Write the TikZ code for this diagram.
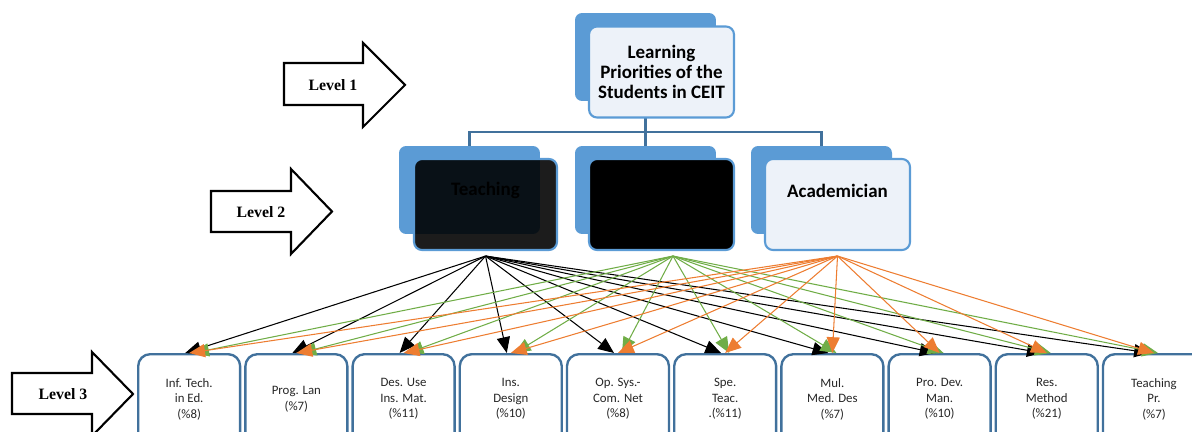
\documentclass[tikz,border=0pt]{standalone}
\usepackage{fontspec}
\setmainfont{Liberation Serif}
\newfontfamily\calibri{Carlito}
\usetikzlibrary{arrows.meta}
\definecolor{backblue}{HTML}{5B9BD5}
\definecolor{frameblue}{HTML}{41719C}
\definecolor{paleblue}{HTML}{EDF2F9}
\definecolor{arrgreen}{HTML}{70AD47}
\definecolor{arrorange}{HTML}{ED7D31}
\tikzset{
  backbox/.style={fill=backblue, rounded corners=0.14cm, inner sep=0, minimum width=2.82cm, minimum height=1.76cm},
  frontbox/.style={draw=backblue, line width=1.2pt, rounded corners=0.16cm, inner sep=0, minimum width=2.9cm, minimum height=1.82cm, align=center},
  boxtext/.style={font=\calibri\bfseries\fontsize{10.8}{11.6}\selectfont, align=center},
  topic/.style={draw=frameblue, line width=1.35pt, rounded corners=0.24cm, minimum width=2.04cm, minimum height=1.8cm, anchor=north west, inner sep=0, align=center, font=\calibri\fontsize{7.3}{8.8}\selectfont, text=black!85},
  link/.style={draw=frameblue, line width=1.4pt},
  levelarrow/.style={draw=black, line width=1.2pt, fill=white, line join=miter},
  leveltext/.style={font=\bfseries\fontsize{9}{10}\selectfont},
  pri/.style={-{Triangle[length=9pt,width=7.5pt]}, line width=0.6pt}
}
\begin{document}
\begin{tikzpicture}[x=0.02cm,y=-0.02cm]
\useasboundingbox (0,0) rectangle (1192,432);

% level arrows
\draw[levelarrow] (284,63) -- (363,63) -- (363,43) -- (405,85) -- (363,127) -- (363,105) -- (284,105) -- cycle;
\node[leveltext] (lvl1) at (333,85) {Level 1};
\draw[levelarrow] (211,191) -- (291,191) -- (291,169) -- (332,211.5) -- (291,254) -- (291,232) -- (211,232) -- cycle;
\node[leveltext] (lvl2) at (261,212) {Level 2};
\draw[levelarrow] (12,373) -- (92,373) -- (92,352) -- (133,394) -- (92,436) -- (92,414) -- (12,414) -- cycle;
\node[leveltext] (lvl3) at (63,394) {Level 3};

% back boxes
\node[backbox] (goalb) at (645.5,57) {};
\node[backbox] (teachb) at (469.5,190) {};
\node[backbox] (midb) at (645.5,190) {};
\node[backbox] (acadb) at (821.5,190) {};

% tree lines
\coordinate (bus) at (0,132);
\draw[link] (goalb.south) -- (goalb.south |- bus);
\draw[link] (teachb.north) |- (acadb.north |- bus) -- (acadb.north);
\draw[link] (midb.north) -- (midb.north |- bus);

% front boxes
\node[frontbox, fill=paleblue, boxtext] (goal) at (661.5,72) {Learning\\Priorities of the\\Students in CEIT};
\node[frontbox, fill=black, fill opacity=0.89, minimum width=2.86cm] (teach) at (485.5,204.5) {};
\node[boxtext] (teachtxt) at ([yshift=0.28cm]teach.center) {Teaching};
\node[frontbox, fill=black] (mid) at (661.5,204.5) {};
\node[frontbox, fill=paleblue] (acad) at (837.5,204.5) {};
\node[boxtext] (acadtxt) at ([yshift=0.27cm]acad.center) {Academician};

% level 3
\node[topic] (itech) at (137,353) {Inf. Tech.\\in Ed.\\(\%8)};
\node[topic] (prog) at (244.2,353) {Prog. Lan\\(\%7)};
\node[topic] (desuse) at (351.4,353) {Des. Use\\Ins. Mat.\\(\%11)};
\node[topic] (insdes) at (458.6,353) {Ins.\\Design\\(\%10)};
\node[topic] (opsys) at (565.8,353) {Op. Sys.-\\Com. Net\\(\%8)};
\node[topic] (spe) at (673,353) {Spe.\\Teac.\\.(\%11)};
\node[topic] (mul) at (780.2,353) {Mul.\\Med. Des\\(\%7)};
\node[topic] (prodev) at (887.4,353) {Pro. Dev.\\Man.\\(\%10)};
\node[topic] (resm) at (994.6,353) {Res.\\Method\\(\%21)};
\node[topic] (tprac) at (1101.8,353) {Teaching\\Pr.\\(\%7)};

% priorities
\coordinate (tsrc) at ([yshift=-0.1cm]teach.south);
\coordinate (msrc) at ([xshift=0.23cm,yshift=-0.1cm]mid.south);
\coordinate (asrc) at ([yshift=-0.1cm]acad.south);
\foreach \t in {itech,prog,desuse,insdes,opsys,spe,mul,prodev,resm,tprac}
  \draw[pri, black] (tsrc) -- ([xshift=-0.08cm]\t.north);
\foreach \t in {itech,prog,desuse,insdes,opsys,spe,mul,prodev,resm,tprac}
  \draw[pri, arrgreen] (msrc) -- ([xshift=0.08cm]\t.north);
\foreach \t in {itech,prog,desuse,insdes,opsys,spe,mul,prodev,resm,tprac}
  \draw[pri, arrorange] (asrc) -- (\t.north);
\end{tikzpicture}
\end{document}
